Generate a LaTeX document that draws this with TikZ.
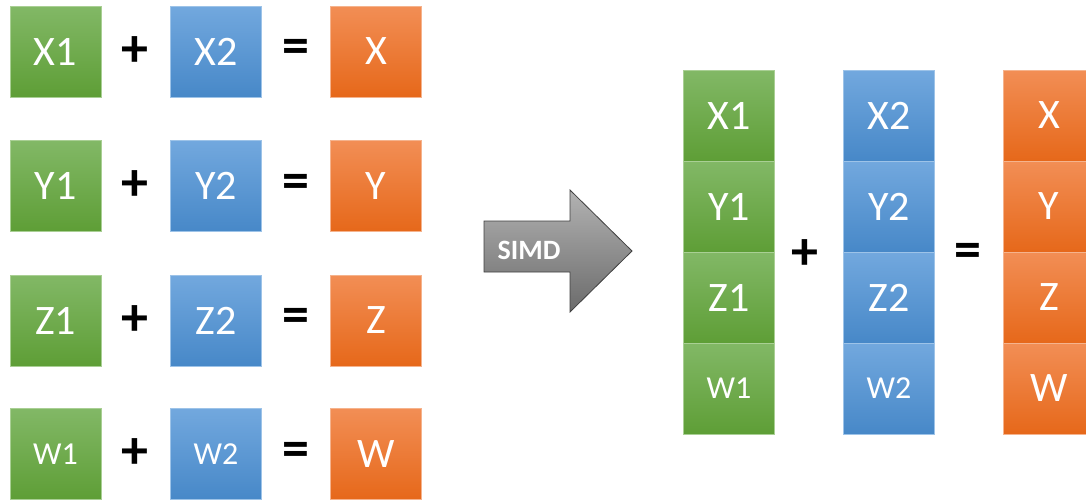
\documentclass[tikz,border=0pt]{standalone}
\usepackage{fontspec}
\setmainfont{Carlito}
\usetikzlibrary{positioning}
\definecolor{gtop}{HTML}{82B866}
\definecolor{gbot}{HTML}{5E9E36}
\definecolor{gbrd}{HTML}{A9CF94}
\definecolor{btop}{HTML}{72A8DE}
\definecolor{bbot}{HTML}{4788C8}
\definecolor{bbrd}{HTML}{9DC3E8}
\definecolor{otop}{HTML}{F28E55}
\definecolor{obot}{HTML}{E6681A}
\definecolor{obrd}{HTML}{F5B38D}
\tikzset{
  cell/.style={minimum width=91pt, minimum height=91pt, inner sep=0pt, line width=0.8pt,
     text=white, font=\fontsize{42}{42}\selectfont},
  gcell/.style={cell, draw=gbrd, top color=gtop, bottom color=gbot},
  bcell/.style={cell, draw=bbrd, top color=btop, bottom color=bbot},
  ocell/.style={cell, draw=obrd, top color=otop, bottom color=obot},
  small/.style={font=\fontsize{32}{32}\selectfont},
  op/.style={font=\bfseries\fontsize{54}{54}\selectfont, text=black, inner sep=0pt},
}
\begin{document}
\begin{tikzpicture}[x=1pt,y=-1pt]
\useasboundingbox (0,0) rectangle (1086,499);
% left rows
\foreach \r/\a/\b/\c/\s/\yy in {1/X1/X2/X/{}/51.5, 2/Y1/Y2/Y/{}/186, 3/Z1/Z2/Z/{}/320.5, 4/W1/W2/W/small/454}{
  \node[gcell,\s] (l\r a) at (55.5,\yy) {\a};
  \node[op] (l\r p) at (135,\yy) {+};
  \node[bcell,\s] (l\r b) at (216,\yy) {\b};
  \node[op] (l\r e) at (296,\yy) {=};
  \node[ocell] (l\r c) at (376,\yy) {\c};
}
% arrow
\path[draw=black!75, line width=0.8pt, top color=black!30, bottom color=black!58]
  (484,221) -- (570,221) -- (570,190) -- (632,251) -- (570,312) -- (570,272) -- (484,272) -- cycle;
\node[text=white, font=\bfseries\fontsize{28}{28}\selectfont] (simd) at (529,250) {SIMD};
% right columns
\foreach \i/\a/\b/\c/\s/\yy in {1/X1/X2/X/{}/115.5, 2/Y1/Y2/Y/{}/206.5, 3/Z1/Z2/Z/{}/297.5, 4/W1/W2/W/small/388.5}{
  \node[gcell,\s] (r\i a) at (729,\yy) {\a};
  \node[bcell,\s] (r\i b) at (889,\yy) {\b};
  \node[ocell] (r\i c) at (1049,\yy) {\c};
}
\node[op] (rp) at (805,255) {+};
\node[op] (re) at (968,255) {=};
\end{tikzpicture}
\end{document}
